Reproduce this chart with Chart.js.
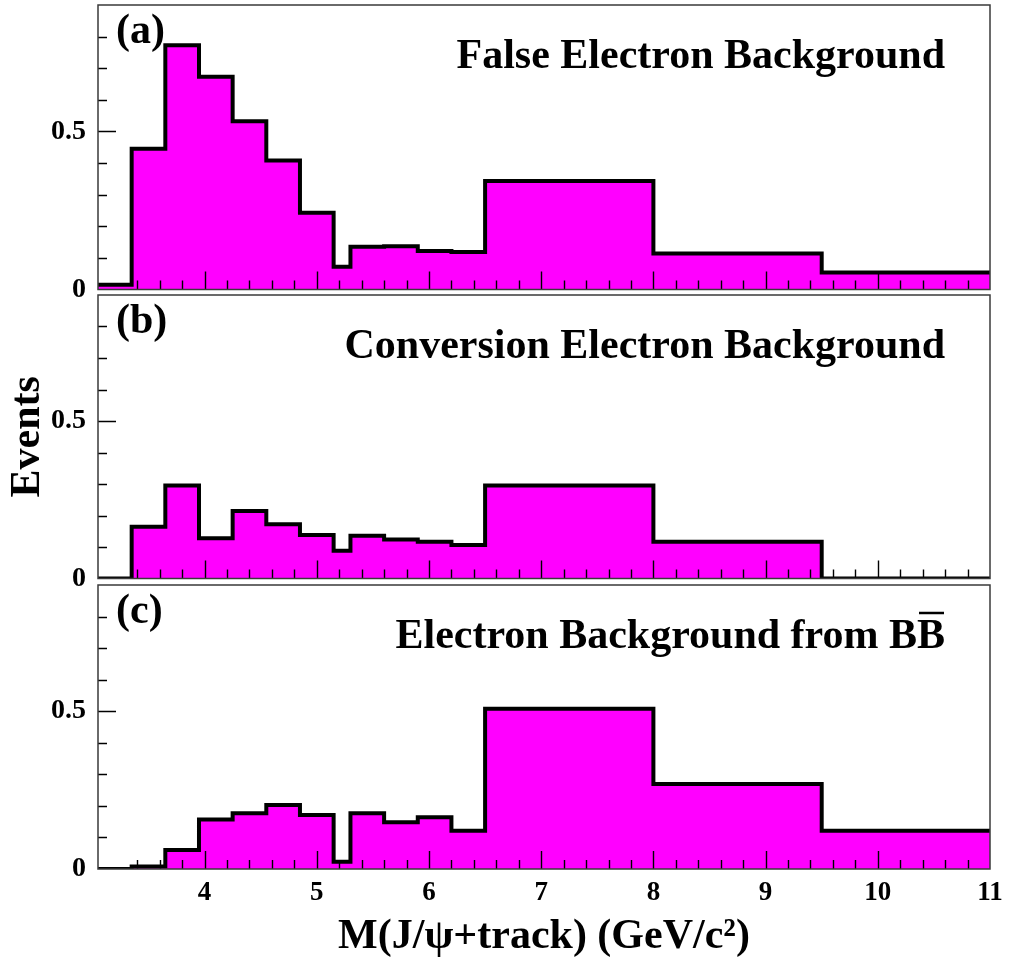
<!DOCTYPE html>
<html>
<head>
  <title>M(J/ψ+track) backgrounds</title>
  <script src="https://cdn.jsdelivr.net/npm/chart.js"></script>
  <style>
    body { margin: 0; background: #fff; }
    #wrap { position: relative; width: 1010px; height: 962px; }
    #wrap canvas { position: absolute; left: 0; }
  </style>
</head>
<body>
  <div id="wrap">
    <canvas id="panelA" width="1010" height="300" style="top:0px"></canvas>
    <canvas id="panelB" width="1010" height="300" style="top:290px"></canvas>
    <canvas id="panelC" width="1010" height="382" style="top:580px"></canvas>
  </div>

  <script>
    // bin edges in GeV/c^2 (15 bins)
    const binEdges = [3.05, 3.35, 3.65, 3.95, 4.25, 4.55, 4.85, 5.15, 5.3, 5.6, 5.9, 6.2, 6.5, 8, 9.5, 11];

    const falseElectron = [0.015, 0.445, 0.773, 0.673, 0.532, 0.408, 0.243, 0.072, 0.135, 0.137, 0.122, 0.119, 0.343, 0.114, 0.054];
    const conversionElectron = [0, 0.164, 0.295, 0.128, 0.214, 0.172, 0.138, 0.088, 0.136, 0.124, 0.117, 0.106, 0.295, 0.117, 0];
    const bbElectron = [0, 0.008, 0.060, 0.157, 0.177, 0.203, 0.171, 0.023, 0.177, 0.148, 0.164, 0.121, 0.508, 0.269, 0.121];

    const xTickLabels = [4, 5, 6, 7, 8, 9, 10, 11];
    const yTickLabels = [0, 0.5];

    const panelTags = ['(a)', '(b)', '(c)'];
    const panelTitles = ['False Electron Background', 'Conversion Electron Background', 'Electron Background from BB'];

    const SERIF = '"Liberation Serif", "Times New Roman", serif';
    const near = (a, b) => Math.abs(a - b) < 1e-6;

    // histogram outline: one point per left edge, last edge repeats the last bin
    const stepPoints = vals => binEdges.map((e, i) => ({ x: e, y: vals[Math.min(i, vals.length - 1)] }));

    // frame + inward ticks, drawn over the filled histogram
    const frameTicks = {
      id: 'frameTicks',
      afterDatasetsDraw(chart) {
        const { ctx, chartArea: a, scales: { x, y } } = chart;
        ctx.save();
        ctx.strokeStyle = '#000';
        ctx.lineWidth = 1.4;
        ctx.beginPath();
        x.ticks.forEach(t => {
          if (t.value <= x.min + 1e-6 || t.value >= x.max - 1e-6) return;
          const px = Math.round(x.getPixelForValue(t.value)) + 0.5;
          const len = near(t.value, Math.round(t.value)) ? 18 : 9;
          ctx.moveTo(px, a.bottom);
          ctx.lineTo(px, a.bottom - len);
        });
        y.ticks.forEach(t => {
          if (t.value <= y.min + 1e-6 || t.value >= y.max - 1e-6) return;
          const py = Math.round(y.getPixelForValue(t.value)) + 0.5;
          const len = near(t.value * 2, Math.round(t.value * 2)) ? 18 : 9;
          ctx.moveTo(a.left, py);
          ctx.lineTo(a.left + len, py);
        });
        ctx.stroke();
        ctx.strokeStyle = '#3a3a3a';
        ctx.lineWidth = 1.5;
        ctx.strokeRect(a.left, a.top, a.width, a.height);
        ctx.restore();
      }
    };

    const panelText = {
      id: 'panelText',
      afterDraw(chart, args, o) {
        const { ctx, chartArea: a } = chart;
        ctx.save();
        ctx.fillStyle = '#000';
        ctx.font = 'bold 42px ' + SERIF;
        ctx.textBaseline = 'alphabetic';
        ctx.textAlign = 'left';
        ctx.fillText(o.tag, a.left + 18, a.top + 38);
        ctx.textAlign = 'right';
        const xr = a.right - 45, base = a.top + 63;
        ctx.fillText(o.title, xr, base);
        if (o.barLast) {
          // bar over the second B
          const w = ctx.measureText('B').width;
          ctx.strokeStyle = '#000';
          ctx.lineWidth = 2.5;
          ctx.beginPath();
          ctx.moveTo(xr - w + 2, base - 35);
          ctx.lineTo(xr - 1, base - 35);
          ctx.stroke();
        }
        ctx.restore();
      }
    };

    function makePanel(id, values, idx, cfg) {
      return new Chart(document.getElementById(id), {
        type: 'line',
        data: {
          datasets: [{
            data: stepPoints(values),
            stepped: 'before',
            fill: 'origin',
            backgroundColor: '#ff00ff',
            borderColor: '#000',
            borderWidth: 4,
            borderJoinStyle: 'miter',
            pointRadius: 0
          }]
        },
        options: {
          responsive: false,
          animation: false,
          events: [],
          layout: { padding: { top: 5, right: 20, left: 0, bottom: 0 } },
          plugins: {
            legend: { display: false },
            tooltip: { enabled: false },
            panelText: { tag: panelTags[idx], title: panelTitles[idx], barLast: idx === 2 }
          },
          scales: {
            x: {
              type: 'linear',
              min: 3.05,
              max: 11,
              grid: { display: false, drawTicks: false },
              border: { display: false },
              ticks: {
                display: cfg.showX,
                stepSize: 0.2,
                autoSkip: false,
                maxRotation: 0,
                padding: 8,
                color: '#000',
                font: { family: SERIF, size: 27, weight: 'bold' },
                callback: v => xTickLabels.some(l => near(l, v)) ? String(Math.round(v)) : ''
              },
              title: {
                display: cfg.showX,
                text: 'M(J/ψ+track) (GeV/c²)',
                color: '#000',
                font: { family: SERIF, size: 42, weight: 'bold' },
                padding: { top: 0, bottom: 0 }
              },
              afterFit: s => { s.height = cfg.xHeight; s.paddingLeft = 0; s.paddingRight = 0; }
            },
            y: {
              min: 0,
              max: 0.9,
              grid: { display: false, drawTicks: false },
              border: { display: false },
              ticks: {
                stepSize: 0.1,
                autoSkip: false,
                padding: 12,
                color: '#000',
                font: { family: SERIF, size: 28, weight: 'bold' },
                callback: v => yTickLabels.some(l => near(l, v)) ? String(Math.round(v * 10) / 10) : ''
              },
              title: {
                display: cfg.showY,
                text: 'Events',
                color: '#000',
                font: { family: SERIF, size: 42, weight: 'bold' },
                padding: { top: 3, bottom: 0 }
              },
              afterFit: s => { s.width = 98; s.paddingTop = 0; s.paddingBottom = 0; }
            }
          }
        },
        plugins: [frameTicks, panelText]
      });
    }

    makePanel('panelA', falseElectron, 0, { showX: false, showY: false, xHeight: 10.5 });
    makePanel('panelB', conversionElectron, 1, { showX: false, showY: true, xHeight: 11.5 });
    makePanel('panelC', bbElectron, 2, { showX: true, showY: false, xHeight: 93 });
  </script>
</body>
</html>
